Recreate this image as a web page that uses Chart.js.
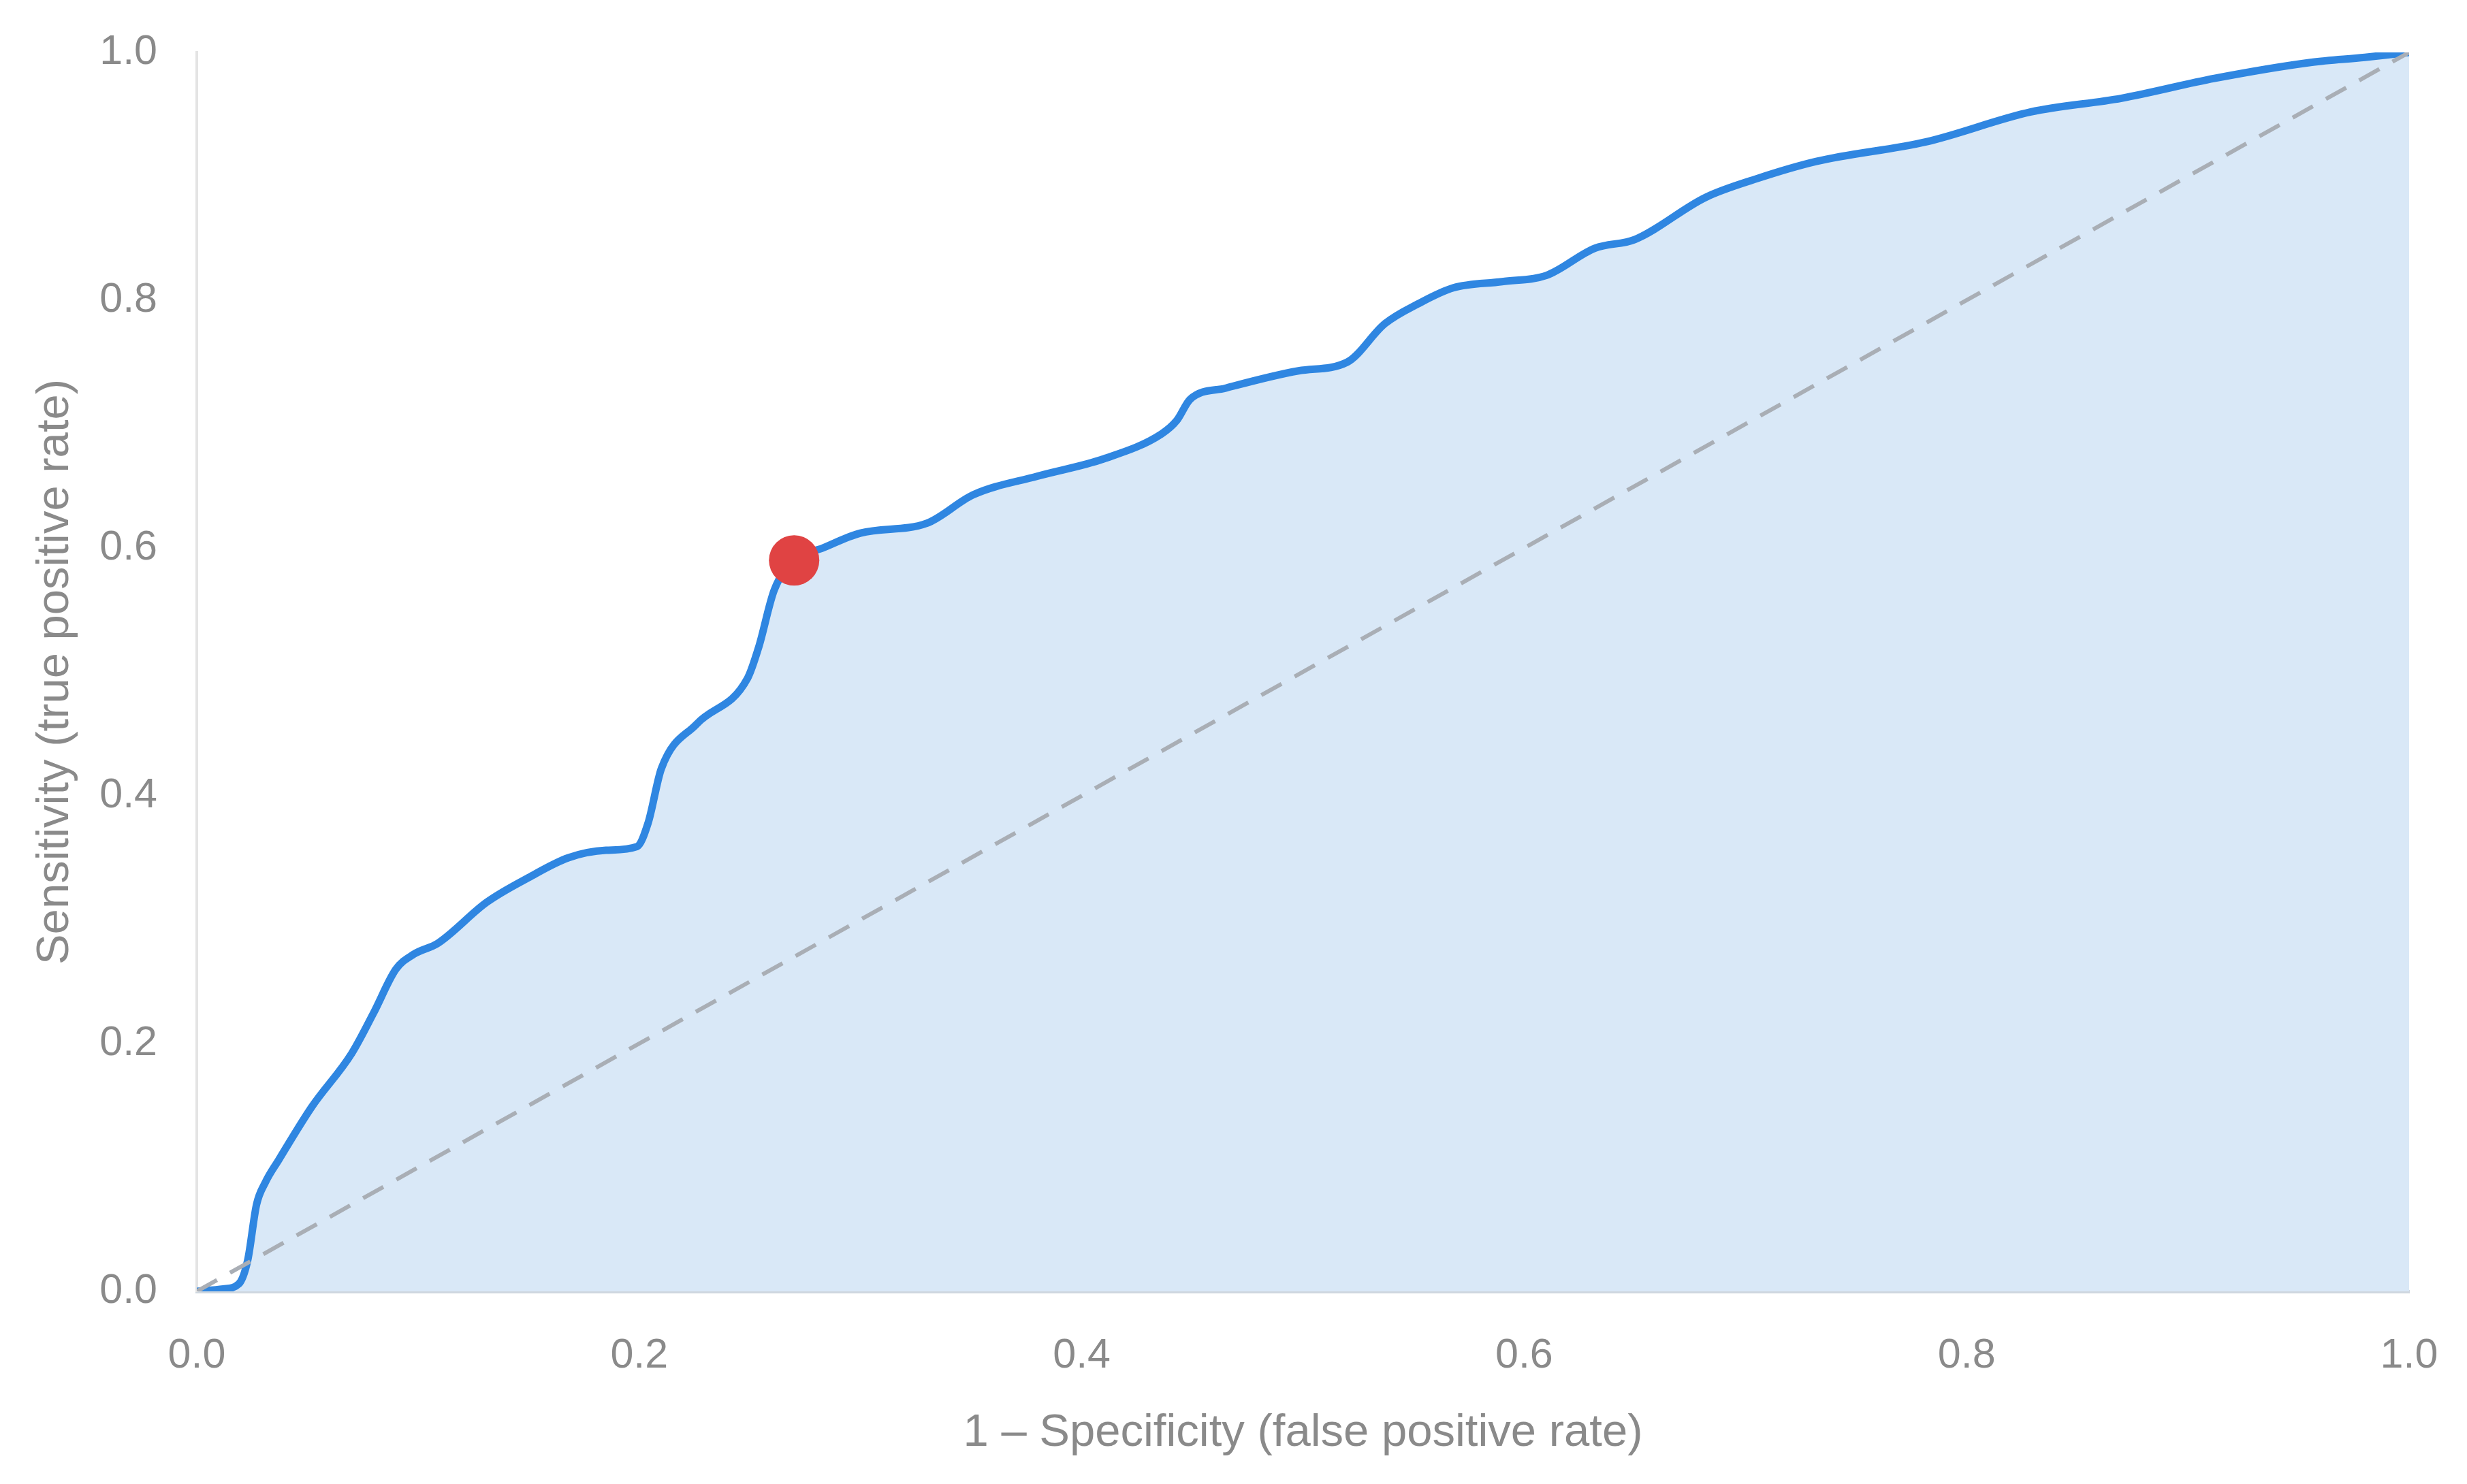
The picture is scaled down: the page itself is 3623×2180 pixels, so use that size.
<!DOCTYPE html>
<html>
<head>
<meta charset="utf-8">
<script src="https://cdn.jsdelivr.net/npm/chart.js@4.4.1/dist/chart.umd.min.js"></script>
<style>
  html, body { margin: 0; padding: 0; background: #fff; }
  #rocChart { display: block; }
</style>
</head>
<body>
<canvas id="rocChart" width="3623" height="2180"></canvas>
<script>
// ROC curve
const fpr = [0, 0.012, 0.019, 0.023, 0.027, 0.031, 0.037, 0.052, 0.070, 0.080,
    0.090, 0.098, 0.109, 0.131, 0.150, 0.168, 0.185, 0.199, 0.204, 0.210,
    0.226, 0.249, 0.254, 0.261, 0.270, 0.283, 0.300, 0.330, 0.351, 0.380,
    0.410, 0.436, 0.443, 0.449, 0.465, 0.498, 0.520, 0.537, 0.552, 0.568,
    0.590, 0.610, 0.632, 0.650, 0.682, 0.705, 0.732, 0.782, 0.829, 0.870,
    0.912, 0.956, 0.980, 1.0];
const tpr = [0, 0.002, 0.006, 0.025, 0.070, 0.088, 0.106, 0.149, 0.192, 0.225,
    0.260, 0.272, 0.281, 0.314, 0.334, 0.350, 0.356, 0.359, 0.378, 0.422,
    0.458, 0.495, 0.520, 0.566, 0.590, 0.600, 0.612, 0.620, 0.643, 0.658,
    0.672, 0.692, 0.703, 0.720, 0.729, 0.743, 0.750, 0.781, 0.797, 0.810,
    0.815, 0.820, 0.842, 0.849, 0.883, 0.898, 0.912, 0.928, 0.952, 0.963,
    0.979, 0.992, 0.996, 1.0];

// chance line and the chosen cut-off point
const chanceX = [0, 1];
const chanceY = [0, 1];
const cutoffX = [0.27];
const cutoffY = [0.59];

const tickValues = [0, 0.2, 0.4, 0.6, 0.8, 1.0];

const xTitle = '1 \u2013 Specificity (false positive rate)';
const yTitle = 'Sensitivity (true positive rate)';

const toPoints = (xs, ys) => xs.map((x, i) => ({ x: x, y: ys[i] }));

const textColor = '#8a8a8a';
const fontFamily = '"Liberation Sans", Arial, Helvetica, sans-serif';

// scales add label overflow to the layout; the outer padding already covers it
const noScalePadding = (axis) => {
    axis.paddingTop = 0;
    axis.paddingBottom = 0;
    axis.paddingLeft = 0;
    axis.paddingRight = 0;
};

const ctx = document.getElementById('rocChart').getContext('2d');

window.rocChartInstance = new Chart(ctx, {
    type: 'scatter',
    data: {
        datasets: [
            {
                label: 'Cut-off',
                data: toPoints(cutoffX, cutoffY),
                backgroundColor: '#e04343',
                borderWidth: 0,
                pointRadius: 37,
                pointHoverRadius: 37,
                order: 0
            },
            {
                label: 'Chance',
                data: toPoints(chanceX, chanceY),
                showLine: true,
                borderColor: '#a9aeb5',
                borderWidth: 6,
                borderDash: [34, 22],
                pointRadius: 0,
                fill: false,
                order: 1
            },
            {
                label: 'ROC',
                data: toPoints(fpr, tpr),
                showLine: true,
                borderColor: '#2f86e1',
                borderWidth: 11,
                cubicInterpolationMode: 'monotone',
                pointRadius: 0,
                fill: 'origin',
                backgroundColor: '#d9e8f7',
                order: 2
            }
        ]
    },
    options: {
        responsive: false,
        animation: false,
        devicePixelRatio: 1,
        layout: {
            autoPadding: false,
            padding: { left: 20, right: 85, top: 77, bottom: 20 }
        },
        plugins: {
            legend: { display: false },
            tooltip: { enabled: false }
        },
        scales: {
            x: {
                type: 'linear',
                min: 0,
                max: 1,
                afterBuildTicks: (axis) => { axis.ticks = tickValues.map(v => ({ value: v })); },
                afterFit: (axis) => {
                    axis.height = 2180 - 20 - 1897;
                    noScalePadding(axis);
                },
                grid: { display: false, drawTicks: false },
                border: { display: true, color: '#cfd7df', width: 5 },
                ticks: {
                    padding: 59,
                    color: textColor,
                    font: { family: fontFamily, size: 61 },
                    callback: (v) => v.toFixed(1)
                },
                title: {
                    display: true,
                    text: xTitle,
                    color: textColor,
                    font: { family: fontFamily, size: 67 },
                    padding: { top: 0, bottom: 14 }
                }
            },
            y: {
                type: 'linear',
                min: 0,
                max: 1,
                afterBuildTicks: (axis) => { axis.ticks = tickValues.map(v => ({ value: v })); },
                afterFit: (axis) => {
                    axis.width = 289 - 20;
                    noScalePadding(axis);
                },
                grid: { display: false, drawTicks: false },
                border: { display: true, color: '#e4e4e4', width: 4 },
                ticks: {
                    padding: 58,
                    color: textColor,
                    font: { family: fontFamily, size: 61 },
                    callback: (v) => v.toFixed(1)
                },
                title: {
                    display: true,
                    text: yTitle,
                    color: textColor,
                    font: { family: fontFamily, size: 67 },
                    padding: { top: 21, bottom: 0 }
                }
            }
        }
    }
});
</script>
</body>
</html>
